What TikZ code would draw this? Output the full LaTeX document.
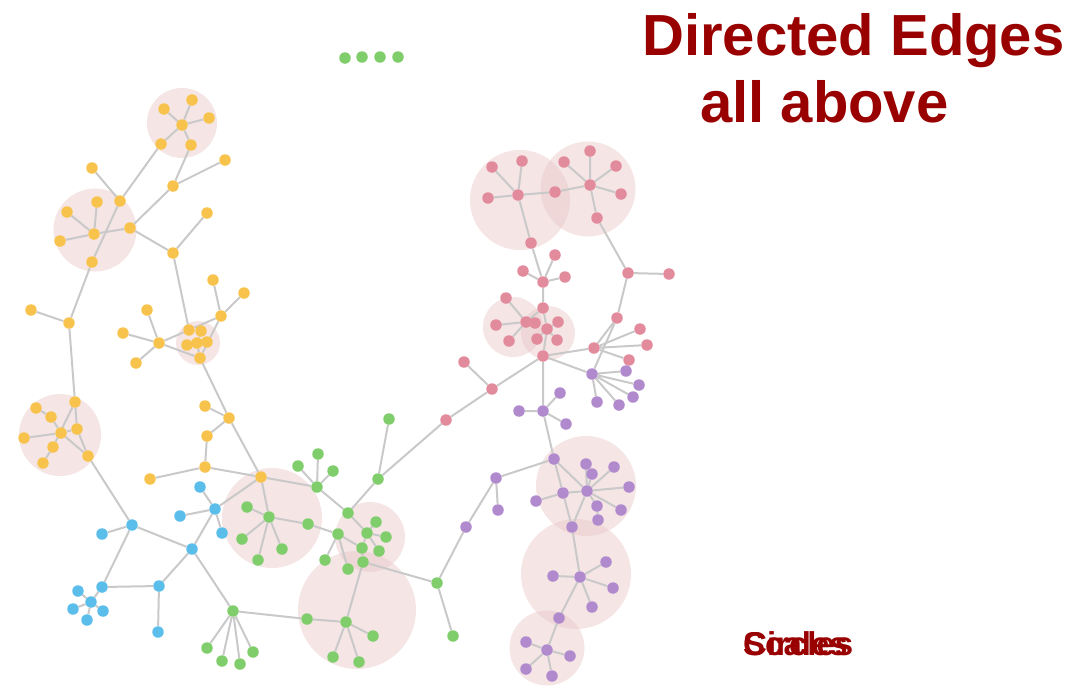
\documentclass[tikz,border=0pt]{standalone}
\usepackage{fontspec}
\setmainfont{Liberation Sans}
\usepackage{tikz}
\usetikzlibrary{positioning}
\definecolor{titlered}{HTML}{990000}
\definecolor{dotyellow}{HTML}{F8C34D}
\definecolor{dotgreen}{HTML}{80CD6C}
\definecolor{dotblue}{HTML}{5ABDEA}
\definecolor{dotpink}{HTML}{E28B9C}
\definecolor{dotpurple}{HTML}{B08ACD}
\definecolor{edgegray}{HTML}{C9C9C9}
\definecolor{halopink}{HTML}{E8C6C6}
\pgfdeclarelayer{halo}
\pgfdeclarelayer{edges}
\pgfsetlayers{halo,edges,main}

\begin{document}
\begin{tikzpicture}[
    x=1pt, y=-1pt,
    dot/.style={circle, inner sep=0pt, minimum size=11.5pt},
    ydot/.style={dot, fill=dotyellow},
    gdot/.style={dot, fill=dotgreen},
    bdot/.style={dot, fill=dotblue},
    pdot/.style={dot, fill=dotpink},
    udot/.style={dot, fill=dotpurple},
    halo/.style={circle, inner sep=0pt, fill=halopink, opacity=0.45},
    edge/.style={draw=edgegray, line width=2pt},
    bigtitle/.style={font=\fontsize{58}{61}\selectfont\bfseries\color{titlered},
      inner sep=0pt, anchor=base west},
    smalltitle/.style={font=\fontsize{33}{35}\selectfont\bfseries\color{titlered},
      inner sep=0pt, anchor=base west},
]
\useasboundingbox (0,0) rectangle (1088,691);
% Titles
\node[bigtitle] (title) at (642,55) {Directed Edges};
\node[bigtitle] (subtitle) at (700,122) {all above};
\node[smalltitle] (circles) at (743,655) {Circles};
\node[smalltitle] (scales) at (743,655) {Scales};
% Halos
\begin{pgfonlayer}{halo}
\node[halo, minimum size=70pt]  (h1)  at (182,123) {};
\node[halo, minimum size=83pt]  (h2)  at (95,230) {};
\node[halo, minimum size=44pt]  (h3)  at (198,343) {};
\node[halo, minimum size=82pt]  (h4)  at (60,435) {};
\node[halo, minimum size=100pt] (h5)  at (272,518) {};
\node[halo, minimum size=70pt]  (h6)  at (370,537) {};
\node[halo, minimum size=118pt] (h7)  at (357,610) {};
\node[halo, minimum size=100pt] (h8)  at (520,200) {};
\node[halo, minimum size=95pt]  (h9)  at (588,189) {};
\node[halo, minimum size=60pt]  (h10) at (513,327) {};
\node[halo, minimum size=54pt]  (h11) at (548,333) {};
\node[halo, minimum size=100pt] (h12) at (586,486) {};
\node[halo, minimum size=110pt] (h13) at (576,574) {};
\node[halo, minimum size=75pt]  (h14) at (547,648) {};
\end{pgfonlayer}
% Yellow nodes
\node[ydot] (y1) at (182,125) {};
\node[ydot] (y2) at (192,100) {};
\node[ydot] (y3) at (164,109) {};
\node[ydot] (y4) at (209,118) {};
\node[ydot] (y5) at (161,144) {};
\node[ydot] (y6) at (191,145) {};
\node[ydot] (y7) at (120,201) {};
\node[ydot] (y8) at (173,186) {};
\node[ydot] (y9) at (225,160) {};
\node[ydot] (y10) at (92,168) {};
\node[ydot] (y11) at (94,234) {};
\node[ydot] (y12) at (67,212) {};
\node[ydot] (y13) at (97,202) {};
\node[ydot] (y14) at (60,241) {};
\node[ydot] (y15) at (92,262) {};
\node[ydot] (y16) at (130,228) {};
\node[ydot] (y17) at (173,253) {};
\node[ydot] (y18) at (207,213) {};
\node[ydot] (y19) at (69,323) {};
\node[ydot] (y20) at (31,310) {};
\node[ydot] (y21) at (189,330) {};
\node[ydot] (y22) at (201,331) {};
\node[ydot] (y23) at (187,345) {};
\node[ydot] (y24) at (197,343) {};
\node[ydot] (y25) at (207,342) {};
\node[ydot] (y26) at (200,358) {};
\node[ydot] (y27) at (221,316) {};
\node[ydot] (y28) at (213,280) {};
\node[ydot] (y29) at (244,293) {};
\node[ydot] (y30) at (159,343) {};
\node[ydot] (y31) at (147,310) {};
\node[ydot] (y32) at (123,333) {};
\node[ydot] (y33) at (136,363) {};
\node[ydot] (y34) at (229,418) {};
\node[ydot] (y35) at (205,406) {};
\node[ydot] (y36) at (207,436) {};
\node[ydot] (y37) at (205,467) {};
\node[ydot] (y38) at (150,479) {};
\node[ydot] (y39) at (261,477) {};
\node[ydot] (y40) at (75,402) {};
\node[ydot] (y41) at (36,408) {};
\node[ydot] (y42) at (51,417) {};
\node[ydot] (y43) at (61,433) {};
\node[ydot] (y44) at (77,429) {};
\node[ydot] (y45) at (24,438) {};
\node[ydot] (y46) at (53,447) {};
\node[ydot] (y47) at (43,463) {};
\node[ydot] (y48) at (88,456) {};
% Blue nodes
\node[bdot] (b1) at (132,525) {};
\node[bdot] (b2) at (102,534) {};
\node[bdot] (b3) at (192,549) {};
\node[bdot] (b4) at (215,509) {};
\node[bdot] (b5) at (200,487) {};
\node[bdot] (b6) at (180,516) {};
\node[bdot] (b7) at (222,533) {};
\node[bdot] (b8) at (102,587) {};
\node[bdot] (b9) at (159,586) {};
\node[bdot] (b10) at (158,632) {};
\node[bdot] (b11) at (91,602) {};
\node[bdot] (b12) at (78,591) {};
\node[bdot] (b13) at (73,609) {};
\node[bdot] (b14) at (87,620) {};
\node[bdot] (b15) at (103,611) {};
% Green nodes
\node[gdot] (g1) at (233,611) {};
\node[gdot] (g2) at (207,648) {};
\node[gdot] (g3) at (222,661) {};
\node[gdot] (g4) at (240,664) {};
\node[gdot] (g5) at (253,652) {};
\node[gdot] (g6) at (307,619) {};
\node[gdot] (g7) at (346,622) {};
\node[gdot] (g8) at (373,636) {};
\node[gdot] (g9) at (333,657) {};
\node[gdot] (g10) at (359,662) {};
\node[gdot] (g11) at (269,517) {};
\node[gdot] (g12) at (247,507) {};
\node[gdot] (g13) at (242,539) {};
\node[gdot] (g14) at (258,560) {};
\node[gdot] (g15) at (282,549) {};
\node[gdot] (g16) at (308,524) {};
\node[gdot] (g17) at (317,487) {};
\node[gdot] (g18) at (298,466) {};
\node[gdot] (g19) at (318,454) {};
\node[gdot] (g20) at (333,471) {};
\node[gdot] (g21) at (348,513) {};
\node[gdot] (g22) at (338,534) {};
\node[gdot] (g23) at (367,533) {};
\node[gdot] (g24) at (376,522) {};
\node[gdot] (g25) at (386,537) {};
\node[gdot] (g26) at (362,548) {};
\node[gdot] (g27) at (379,551) {};
\node[gdot] (g28) at (363,562) {};
\node[gdot] (g29) at (325,560) {};
\node[gdot] (g30) at (348,569) {};
\node[gdot] (g31) at (378,479) {};
\node[gdot] (g32) at (389,419) {};
\node[gdot] (g33) at (437,583) {};
\node[gdot] (g34) at (453,636) {};
\node[gdot] (g35) at (345,58) {};
\node[gdot] (g36) at (362,57) {};
\node[gdot] (g37) at (380,57) {};
\node[gdot] (g38) at (398,57) {};
% Pink nodes
\node[pdot] (p1) at (518,195) {};
\node[pdot] (p2) at (492,167) {};
\node[pdot] (p3) at (522,161) {};
\node[pdot] (p4) at (488,198) {};
\node[pdot] (p5) at (555,192) {};
\node[pdot] (p6) at (590,185) {};
\node[pdot] (p7) at (564,162) {};
\node[pdot] (p8) at (590,151) {};
\node[pdot] (p9) at (616,166) {};
\node[pdot] (p10) at (621,194) {};
\node[pdot] (p11) at (597,218) {};
\node[pdot] (p12) at (531,243) {};
\node[pdot] (p13) at (543,282) {};
\node[pdot] (p14) at (523,271) {};
\node[pdot] (p15) at (555,255) {};
\node[pdot] (p16) at (565,277) {};
\node[pdot] (p17) at (543,308) {};
\node[pdot] (p18) at (526,322) {};
\node[pdot] (p19) at (506,298) {};
\node[pdot] (p20) at (496,325) {};
\node[pdot] (p21) at (509,341) {};
\node[pdot] (p22) at (535,323) {};
\node[pdot] (p23) at (547,329) {};
\node[pdot] (p24) at (558,322) {};
\node[pdot] (p25) at (537,339) {};
\node[pdot] (p26) at (557,340) {};
\node[pdot] (p27) at (543,356) {};
\node[pdot] (p28) at (628,273) {};
\node[pdot] (p29) at (669,274) {};
\node[pdot] (p30) at (617,318) {};
\node[pdot] (p31) at (594,348) {};
\node[pdot] (p32) at (640,329) {};
\node[pdot] (p33) at (647,345) {};
\node[pdot] (p34) at (629,360) {};
\node[pdot] (p35) at (492,389) {};
\node[pdot] (p36) at (464,362) {};
\node[pdot] (p37) at (446,420) {};
% Purple nodes
\node[udot] (u1) at (592,374) {};
\node[udot] (u2) at (626,371) {};
\node[udot] (u3) at (639,385) {};
\node[udot] (u4) at (633,397) {};
\node[udot] (u5) at (619,405) {};
\node[udot] (u6) at (597,402) {};
\node[udot] (u7) at (543,411) {};
\node[udot] (u8) at (519,411) {};
\node[udot] (u9) at (560,393) {};
\node[udot] (u10) at (566,424) {};
\node[udot] (u11) at (554,459) {};
\node[udot] (u12) at (496,478) {};
\node[udot] (u13) at (498,510) {};
\node[udot] (u14) at (466,527) {};
\node[udot] (u15) at (563,493) {};
\node[udot] (u16) at (536,501) {};
\node[udot] (u17) at (587,491) {};
\node[udot] (u18) at (586,464) {};
\node[udot] (u19) at (592,474) {};
\node[udot] (u20) at (614,467) {};
\node[udot] (u21) at (629,487) {};
\node[udot] (u22) at (597,506) {};
\node[udot] (u23) at (621,510) {};
\node[udot] (u24) at (598,520) {};
\node[udot] (u25) at (572,527) {};
\node[udot] (u26) at (580,577) {};
\node[udot] (u27) at (553,576) {};
\node[udot] (u28) at (606,562) {};
\node[udot] (u29) at (613,588) {};
\node[udot] (u30) at (592,607) {};
\node[udot] (u31) at (559,618) {};
\node[udot] (u32) at (547,650) {};
\node[udot] (u33) at (526,642) {};
\node[udot] (u34) at (570,656) {};
\node[udot] (u35) at (526,669) {};
\node[udot] (u36) at (552,676) {};
% Edges
\begin{pgfonlayer}{edges}
\draw[edge] (y1) -- (y2) (y1) -- (y3) (y1) -- (y4) (y1) -- (y5) (y1) -- (y6);
\draw[edge] (y5) -- (y7) -- (y10) (y7) -- (y15);
\draw[edge] (y6) -- (y8) -- (y9) (y8) -- (y16);
\draw[edge] (y11) -- (y12) (y11) -- (y13) (y11) -- (y14) (y11) -- (y16);
\draw[edge] (y16) -- (y17) -- (y18) (y17) -- (y21);
\draw[edge] (y15) -- (y19) -- (y20) (y19) -- (y40);
\draw[edge] (y27) -- (y21) (y27) -- (y28) (y27) -- (y29) (y27) -- (y26);
\draw[edge] (y30) -- (y31) (y30) -- (y32) (y30) -- (y33) (y30) -- (y21) (y30) -- (y26);
\draw[edge] (y22) -- (y24) (y23) -- (y24) (y25) -- (y24) (y24) -- (y26);
\draw[edge] (y26) -- (y34) -- (y35) (y34) -- (y36) -- (y37) -- (y38) (y37) -- (y39) (y34) -- (y39);
\draw[edge] (y40) -- (y44) -- (y48) (y40) -- (y46) -- (y47);
\draw[edge] (y43) -- (y42) -- (y41) (y43) -- (y45) (y43) -- (y48) (y43) -- (y44);
\draw[edge] (y48) -- (b1);
\draw[edge] (b1) -- (b2) (b1) -- (b3) (b1) -- (b8) -- (b9) -- (b10) (b9) -- (b3);
\draw[edge] (b8) -- (b11) (b11) -- (b12) (b11) -- (b13) (b11) -- (b14) (b11) -- (b15);
\draw[edge] (b3) -- (b4) (b4) -- (b5) (b4) -- (b6) (b4) -- (b7) (b4) -- (y39);
\draw[edge] (b3) -- (g1);
\draw[edge] (g1) -- (g2) (g1) -- (g3) (g1) -- (g4) (g1) -- (g5) (g1) -- (g6) -- (g7);
\draw[edge] (g7) -- (g8) (g7) -- (g9) (g7) -- (g10) (g7) -- (g28);
\draw[edge] (y39) -- (g11) (g11) -- (g12) (g11) -- (g13) (g11) -- (g14) (g11) -- (g15) (g11) -- (g16);
\draw[edge] (g16) -- (g22) (g22) -- (g29) (g22) -- (g30) (g22) -- (g26);
\draw[edge] (y39) -- (g17) (g17) -- (g18) (g17) -- (g19) (g17) -- (g20) (g17) -- (g21);
\draw[edge] (g21) -- (g31) -- (g32) (g21) -- (g23);
\draw[edge] (g23) -- (g24) (g23) -- (g25) (g23) -- (g27) (g23) -- (g26) -- (g28);
\draw[edge] (g28) -- (g33) -- (g34) (g33) -- (u14);
\draw[edge] (g31) -- (p37) -- (p35) -- (p36) (p35) -- (p27);
\draw[edge] (p1) -- (p2) (p1) -- (p3) (p1) -- (p4) (p1) -- (p5) -- (p6);
\draw[edge] (p6) -- (p7) (p6) -- (p8) (p6) -- (p9) (p6) -- (p10) (p6) -- (p11);
\draw[edge] (p1) -- (p12) -- (p13) (p13) -- (p14) (p13) -- (p15) (p13) -- (p16) (p13) -- (p17);
\draw[edge] (p17) -- (p18) (p18) -- (p19) (p18) -- (p20) (p18) -- (p21) (p18) -- (p22);
\draw[edge] (p17) -- (p23) (p23) -- (p24) (p23) -- (p25) (p23) -- (p26) (p23) -- (p27);
\draw[edge] (p11) -- (p28) -- (p29) (p28) -- (p30) -- (p31) (p30) -- (u1);
\draw[edge] (p31) -- (p32) (p31) -- (p33) (p31) -- (p34) (p27) -- (p31) (p27) -- (u1);
\draw[edge] (u1) -- (u2) (u1) -- (u3) (u1) -- (u4) (u1) -- (u5) (u1) -- (u6);
\draw[edge] (p27) -- (u7) (u7) -- (u8) (u7) -- (u9) (u7) -- (u10) (u7) -- (u11);
\draw[edge] (u11) -- (u12) -- (u13) (u12) -- (u14);
\draw[edge] (u11) -- (u15) (u11) -- (u17) (u15) -- (u16) (u15) -- (u17) (u15) -- (u25);
\draw[edge] (u17) -- (u18) (u17) -- (u19) (u17) -- (u20) (u17) -- (u21) (u17) -- (u22) (u17) -- (u23);
\draw[edge] (u22) -- (u24) (u17) -- (u25) -- (u26);
\draw[edge] (u26) -- (u27) (u26) -- (u28) (u26) -- (u29) (u26) -- (u30) (u26) -- (u31) -- (u32);
\draw[edge] (u32) -- (u33) (u32) -- (u34) (u32) -- (u35) (u32) -- (u36);
\end{pgfonlayer}
\end{tikzpicture}
\end{document}
